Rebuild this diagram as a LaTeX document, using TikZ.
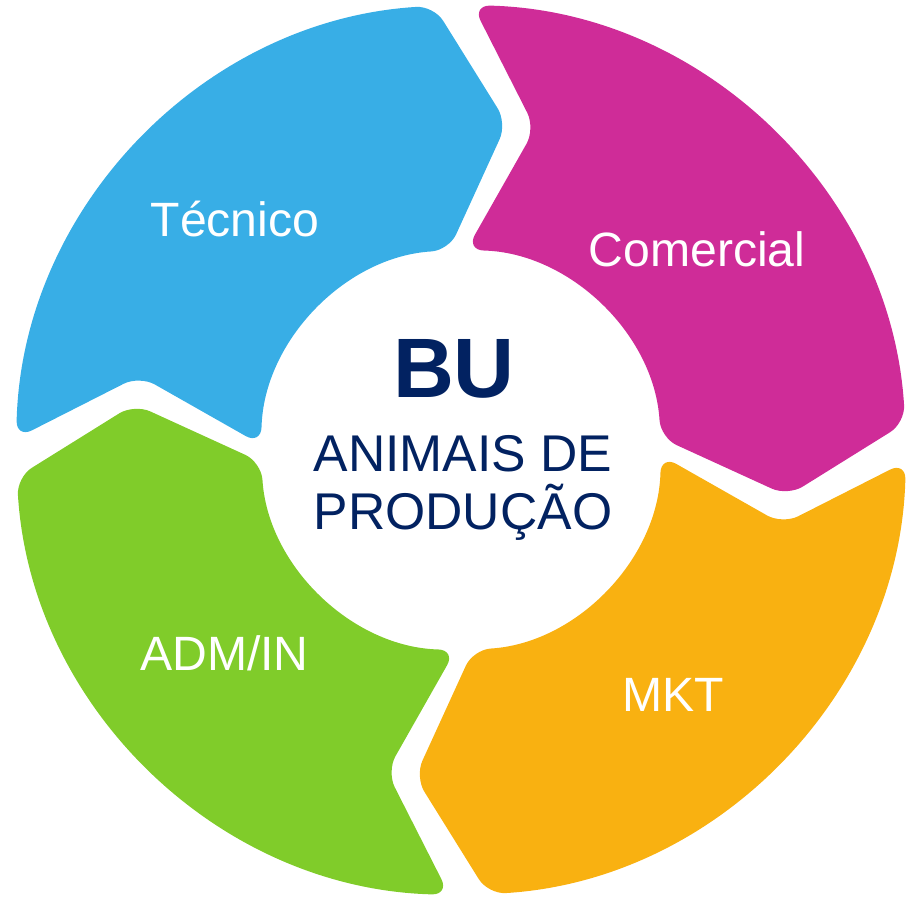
\documentclass[tikz,border=0pt]{standalone}
\usepackage{fontspec}
\setmainfont{Liberation Sans}
\definecolor{tecblue}{RGB}{56,174,230}
\definecolor{commagenta}{RGB}{207,44,152}
\definecolor{mktorange}{RGB}{249,177,17}
\definecolor{admgreen}{RGB}{128,204,42}
\definecolor{bunavy}{RGB}{2,34,97}
\tikzset{
  seglabel/.style={anchor=base,text=white,font=\fontsize{13.7}{16}\selectfont},
  centertext/.style={text=bunavy,align=center}
}
\begin{document}
\begin{tikzpicture}
  \useasboundingbox (-4.61,-4.48) rectangle (4.45,4.50);
  % four arrows of the cycle, clockwise
  \foreach \col/\a in {tecblue/178.5,commagenta/88.5,mktorange/-1.5,admgreen/-91.5}
     \fill[\col,rounded corners=5pt] ({\a-11.5}:3.3) -- (\a:2)
        arc[start angle=\a,end angle=\a-85,radius=2] -- ({\a-96.5}:3.3)
        -- ({\a-85}:4.45) arc[start angle=\a-85,end angle=\a,radius=4.45] -- cycle;
  \node[seglabel] (tecnico) at (-2.26,2.13) {Técnico};
  \node[seglabel] (comercial) at (2.36,1.83) {Comercial};
  \node[seglabel] (mkt) at (2.125,-2.62) {MKT};
  \node[seglabel] (adm) at (-2.365,-2.21) {ADM/IN};
  \node[centertext,anchor=base,font=\fontsize{24}{28}\selectfont\bfseries] (bu) at (-0.07,0.52) {BU};
  \node[centertext,font=\fontsize{14.7}{16.5}\selectfont] (animais) at (0.02,-0.38) {ANIMAIS DE\\PRODUÇÃO};
\end{tikzpicture}
\end{document}
